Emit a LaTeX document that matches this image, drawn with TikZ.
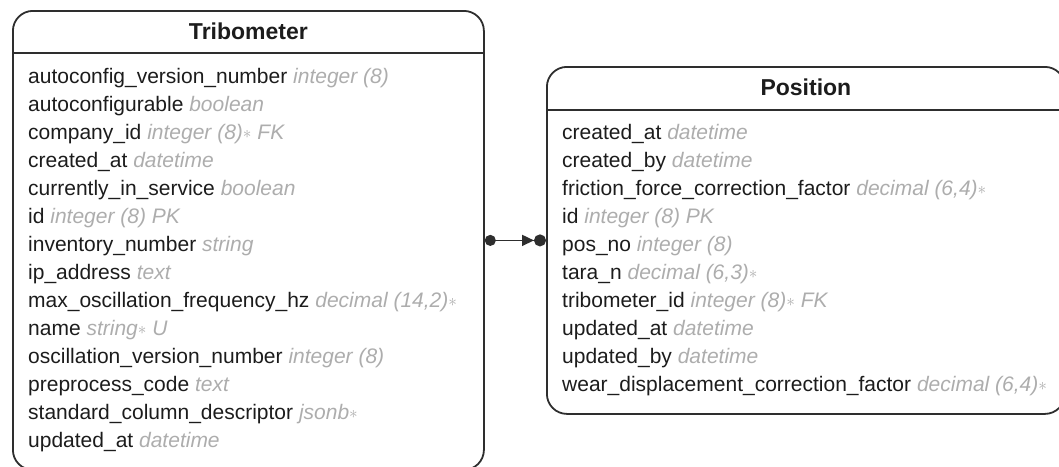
\documentclass[tikz,border=0pt]{standalone}
\usepackage{fontspec}
\setmainfont{Liberation Sans}
\usepackage{xcolor}
\usetikzlibrary{arrows.meta}
\usetikzlibrary{calc}
\usetikzlibrary{positioning}
\definecolor{erdline}{HTML}{2E2E2E}
\definecolor{erdtext}{HTML}{1C1C1C}
\definecolor{erdtype}{HTML}{ADADAD}
\newcommand{\erdreq}{\raisebox{0.5pt}{\fontsize{19}{19}\selectfont$\ast$}}
\tikzset{
  entitybox/.style={draw=erdline, line width=1.8pt, rounded corners=20pt, inner sep=0pt, anchor=north west},
  entitytitle/.style={font=\fontsize{23}{28}\selectfont\bfseries, text=erdtext, inner sep=0pt},
  fieldrow/.style={font=\fontsize{21}{28}\selectfont, text=erdtext, inner sep=0pt, anchor=base west},
  headerline/.style={draw=erdline, line width=1.8pt},
  relation/.style={draw=erdline, line width=1.6pt, arrows={Circle[length=11pt]-Triangle[length=12pt,width=11pt] Circle[length=12pt]}}
}
\begin{document}
\begin{tikzpicture}[x=1pt, y=1pt]
        \newcommand{\erdheadheight}{43}
        \newcommand{\erdrowstep}{28}
        \newcommand{\erdrowfirst}{73}
        \newcommand{\erdrowindent}{16}
        \useasboundingbox (0,0) rectangle (1059,-466);
        \clip (0,0) rectangle (1059,-466);
        % Tribometer table
        \node[entitybox, minimum width=471pt, minimum height=459pt] (tribo) at (12,-10) {};
        \node[entitytitle] (tribotitle) at ($(tribo.north)+(0,-0.5*\erdheadheight)$) {Tribometer};
        \coordinate (triboheadw) at ($(tribo.north west)+(0,-\erdheadheight)$);
        \coordinate (triboheade) at ($(tribo.north east)+(0,-\erdheadheight)$);
        \draw[headerline] (triboheadw) -- (triboheade);
        \foreach \fname/\ftype [count=\i from 0] in {
            {autoconfig\_version\_number}/{integer (8)},
            {autoconfigurable}/{boolean},
            {company\_id}/{integer (8)\erdreq\ FK},
            {created\_at}/{datetime},
            {currently\_in\_service}/{boolean},
            {id}/{integer (8) PK},
            {inventory\_number}/{string},
            {ip\_address}/{text},
            {max\_oscillation\_frequency\_hz}/{decimal (14,2)\erdreq},
            {name}/{string\erdreq\ U},
            {oscillation\_version\_number}/{integer (8)},
            {preprocess\_code}/{text},
            {standard\_column\_descriptor}/{jsonb\erdreq},
            {updated\_at}/{datetime}}
            \node[fieldrow] (tribo-f\i) at ($(tribo.north west)+(\erdrowindent,-\erdrowfirst-\erdrowstep*\i)$) {\fname\ {\color{erdtype}\itshape\ftype}};
        % Position table
        \node[entitybox, minimum width=518pt, minimum height=347pt] (pos) at (546,-66) {};
        \node[entitytitle] (postitle) at ($(pos.north)+(0,-0.5*\erdheadheight)$) {Position};
        \coordinate (posheadw) at ($(pos.north west)+(0,-\erdheadheight-1)$);
        \coordinate (posheade) at ($(pos.north east)+(0,-\erdheadheight-1)$);
        \draw[headerline] (posheadw) -- (posheade);
        \foreach \fname/\ftype [count=\i from 0] in {
            {created\_at}/{datetime},
            {created\_by}/{datetime},
            {friction\_force\_correction\_factor}/{decimal (6,4)\erdreq},
            {id}/{integer (8) PK},
            {pos\_no}/{integer (8)},
            {tara\_n}/{decimal (6,3)\erdreq},
            {tribometer\_id}/{integer (8)\erdreq\ FK},
            {updated\_at}/{datetime},
            {updated\_by}/{datetime},
            {wear\_displacement\_correction\_factor}/{decimal (6,4)\erdreq}}
            \node[fieldrow] (pos-f\i) at ($(pos.north west)+(\erdrowindent,-\erdrowfirst-\erdrowstep*\i)$) {\fname\ {\color{erdtype}\itshape\ftype}};
        % relation
        \draw[relation] (tribo.east) -- (pos.west);
\end{tikzpicture}
\end{document}
